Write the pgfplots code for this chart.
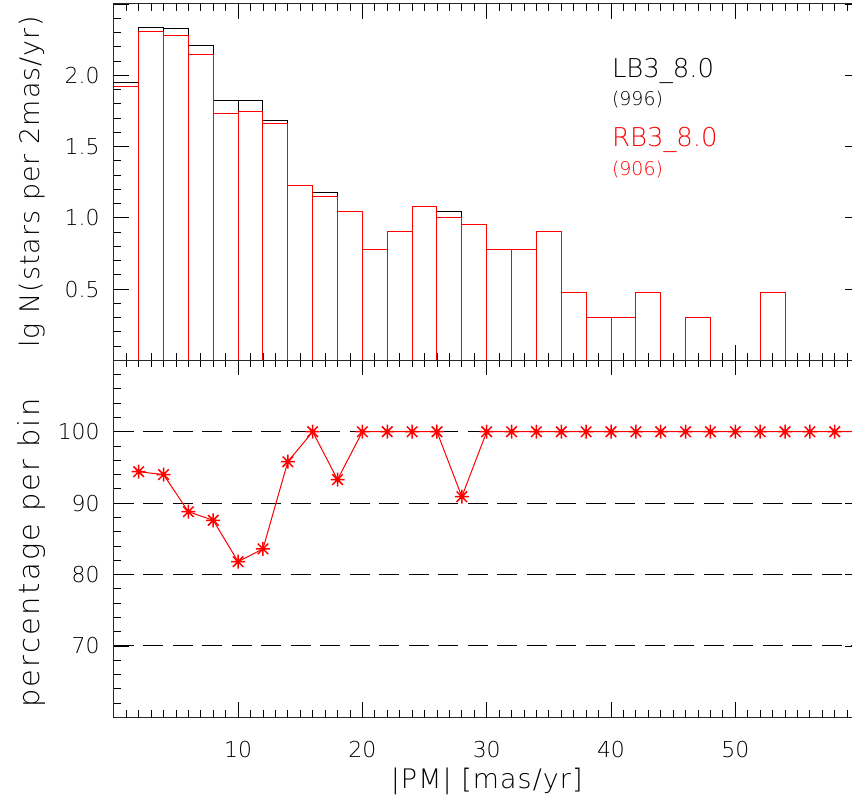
\documentclass[border=0pt]{standalone}
\usepackage{fontspec}
\setmainfont{DejaVu Sans ExtraLight}
\usepackage{pgfplots}
\usepackage{pgfplotstable}
\pgfplotsset{compat=1.18}
\definecolor{idlred}{RGB}{255,0,0}

\pgfdeclareplotmark{ast8}{%
  \pgfpathmoveto{\pgfpoint{-\pgfplotmarksize}{0pt}}%
  \pgfpathlineto{\pgfpoint{\pgfplotmarksize}{0pt}}%
  \pgfpathmoveto{\pgfpoint{0pt}{-\pgfplotmarksize}}%
  \pgfpathlineto{\pgfpoint{0pt}{\pgfplotmarksize}}%
  \pgfpathmoveto{\pgfpoint{-0.75\pgfplotmarksize}{-0.75\pgfplotmarksize}}%
  \pgfpathlineto{\pgfpoint{0.75\pgfplotmarksize}{0.75\pgfplotmarksize}}%
  \pgfpathmoveto{\pgfpoint{-0.75\pgfplotmarksize}{0.75\pgfplotmarksize}}%
  \pgfpathlineto{\pgfpoint{0.75\pgfplotmarksize}{-0.75\pgfplotmarksize}}%
  \pgfusepathqstroke}

% histogram: bin left edge, lg N for LB3_8.0 and RB3_8.0
\pgfplotstableread{
x  lb     rb
0  1.949  1.924
2  2.336  2.310
4  2.330  2.279
6  2.207  2.149
8  1.820  1.732
10 1.826  1.748
12 1.681  1.663
14 1.230  1.230
16 1.176  1.146
18 1.041  1.041
20 0.778  0.778
22 0.903  0.903
24 1.079  1.079
26 1.041  1.000
28 0.954  0.954
30 0.778  0.778
32 0.778  0.778
34 0.903  0.903
36 0.477  0.477
38 0.301  0.301
40 0.301  0.301
42 0.477  0.477
44 0      0
46 0.301  0.301
48 0      0
50 0      0
52 0.477  0.477
54 0      0
56 0      0
58 0      0
60 0      0
}\hist

% percentage per bin
\pgfplotstableread{
x  p
2  94.4
4  94.0
6  88.8
8  87.6
10 81.8
12 83.6
14 95.8
16 100
18 93.3
20 100
22 100
24 100
26 100
28 90.9
30 100
32 100
34 100
36 100
38 100
40 100
42 100
44 100
46 100
48 100
50 100
52 100
54 100
56 100
58 100
60 100
}\perc

\pgfplotsset{
  idlaxis/.style={
    scale only axis, width=745.8bp,
    xmin=0, xmax=60,
    xtick={0,10,...,60}, minor x tick num=9,
    tick align=inside,
    major tick length=15bp, minor tick length=7bp,
    every tick/.style={black, line width=0.8bp},
    axis line style={line width=1bp, black!85},
    tick label style={font=\fontsize{22}{26}\selectfont},
    yticklabel style={anchor=east, inner sep=0pt, xshift=-14bp},
    xticklabel style={anchor=center, inner sep=0pt, yshift=-32bp},
    every axis y label/.style={at={(axis description cs:0,0.5)}, xshift=-82bp, anchor=center, rotate=90},
    every axis x label/.style={at={(axis description cs:0.5,0)}, yshift=-64bp, anchor=center},
    clip=true,
  }
}

\begin{document}
\begin{tikzpicture}
\begin{axis}[idlaxis, name=top,
  height=356.3bp, ymin=0, ymax=2.5,
  ytick={0,0.5,...,2.5}, yticklabels={,0.5,1.0,1.5,2.0,},
  minor y tick num=4,
  xticklabels={},
  ylabel={\fontsize{27}{31}\selectfont\addfontfeatures{LetterSpace=4}lg N(stars per 2mas/yr)},
]
\addplot[ybar interval, draw=black, fill=none, line width=1bp] table[x=x, y=lb] {\hist};
\addplot[ybar interval, draw=idlred, fill=none, line width=1bp] table[x=x, y=rb] {\hist};
\node[anchor=base west, inner sep=0pt, font=\fontsize{26}{30}\selectfont] at (axis cs:40.07,1.985) {LB3\_8.0};
\node[anchor=base west, inner sep=0pt, font=\fontsize{19}{22}\selectfont] at (axis cs:40.07,1.789) {(996)};
\node[anchor=base west, inner sep=0pt, text=idlred, font=\fontsize{26}{30}\selectfont] at (axis cs:40.07,1.497) {RB3\_8.0};
\node[anchor=base west, inner sep=0pt, text=idlred, font=\fontsize{19}{22}\selectfont] at (axis cs:40.07,1.299) {(906)};
\end{axis}

\begin{axis}[idlaxis, name=bot,
  at={(top.south west)}, anchor=north west,
  height=357.1bp, ymin=60, ymax=110,
  ytick={60,70,...,110}, yticklabels={,70,80,90,100,},
  minor y tick num=4,
  xticklabels={,10,20,30,40,50,},
  every axis y label/.style={at={(axis description cs:0,0.46)}, xshift=-82bp, anchor=center, rotate=90},
  ylabel={\fontsize{29}{33}\selectfont\addfontfeatures{LetterSpace=8}percentage per bin},
  xlabel={\fontsize{27}{31}\selectfont\addfontfeatures{LetterSpace=4}|PM| [mas/yr]},
]
\addplot[black, line width=1bp, dash pattern=on 20bp off 9.5bp] coordinates {(0,70) (60,70)};
\addplot[black, line width=1bp, dash pattern=on 20bp off 9.5bp] coordinates {(0,80) (60,80)};
\addplot[black, line width=1bp, dash pattern=on 20bp off 9.5bp] coordinates {(0,90) (60,90)};
\addplot[black, line width=1bp, dash pattern=on 20bp off 9.5bp] coordinates {(0,100) (60,100)};
\addplot[idlred, line width=1bp, mark=ast8, mark size=7bp, mark options={line width=1.5bp, solid}] table[x=x, y=p] {\perc};
\end{axis}

\pgfresetboundingbox
\path ([xshift=-113.8bp, yshift=4bp]top.north west) rectangle ([xshift=738.2bp, yshift=-85.3bp]bot.south west);
\end{tikzpicture}
\end{document}
